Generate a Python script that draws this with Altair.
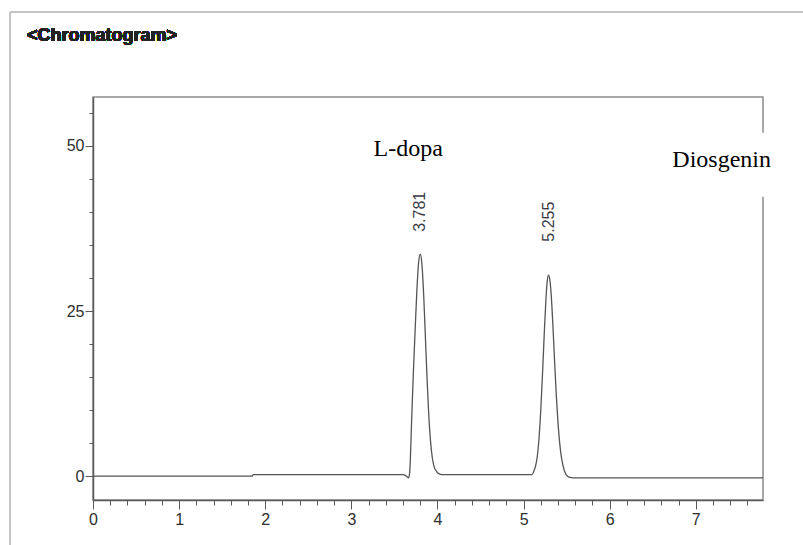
import altair as alt
import pandas as pd

# ---- chromatogram trace (retention time in min, signal) ----
time = [0.00, 1.85, 1.86, 3.60, 3.64, 3.665, 3.675, 3.685, 3.70, 3.72, 3.74, 3.76, 3.78, 3.80,
        3.82, 3.84, 3.86, 3.88, 3.90, 3.92, 3.94, 3.96, 3.99, 4.02, 4.05,
        5.10, 5.12, 5.14, 5.16, 5.18, 5.20, 5.22, 5.24, 5.26, 5.275, 5.29,
        5.305, 5.32, 5.34, 5.36, 5.38, 5.40, 5.42, 5.44, 5.46, 5.48, 5.51, 5.55, 5.60, 7.78]
signal = [0.00, 0.00, 0.25, 0.25, 0.00, -0.25, 0.30, 2.5, 8.5, 15.7, 21.9, 27.9, 32.2, 33.6,
          32.0, 27.4, 21.0, 14.5, 9.0, 5.2, 2.8, 1.5, 0.7, 0.35, 0.25,
          0.25, 0.8, 1.6, 3.1, 5.9, 10.1, 15.6, 21.6, 26.9, 29.6, 30.45,
          29.7, 27.6, 22.9, 17.4, 12.2, 8.0, 4.9, 2.8, 1.5, 0.6, 0.0, -0.2, -0.25, -0.25]

# ---- peak retention-time labels ----
peak_labels = ["3.781", "5.255"]
peak_x = [3.80, 5.29]
peak_label_y = [37.0, 35.5]

# ---- compound annotations ----
compound_names = ["L-dopa", "Diosgenin"]
compound_x = [3.66, 7.30]
compound_y = [48.5, 46.8]

# ---- axis ticks ----
x_major = [0, 1, 2, 3, 4, 5, 6, 7]
x_minor = [round(i * 0.2, 1) for i in range(39) if i % 5 != 0]
y_major = [0, 25, 50]
y_minor = [5, 10, 15, 20, 30, 35, 40, 45, 55]
X_DOMAIN = [0, 7.78]
Y_DOMAIN = [-3.6, 57.4]

trace = pd.DataFrame({"t": time, "s": signal})
peaks = pd.DataFrame({"label": peak_labels, "x": peak_x, "y": peak_label_y})
compounds = pd.DataFrame({"name": compound_names, "x": compound_x, "y": compound_y})
box = compounds[compounds["name"] == "Diosgenin"].copy()
box["x0"] = box["x"] - 0.66
box["x1"] = box["x"] + 1.3
box["y0"] = box["y"] - 4.5
box["y1"] = box["y"] + 5.2

xs = alt.Scale(domain=X_DOMAIN, nice=False, zero=False)
ys = alt.Scale(domain=Y_DOMAIN, nice=False, zero=False)
AX = "#5a5a5a"
LBL_FONT = "Liberation Sans"

main = alt.Chart(trace).mark_line(color="#555555", strokeWidth=1.3, interpolate="monotone").encode(
    x=alt.X("t:Q", scale=xs, title=None,
            axis=alt.Axis(orient="bottom", values=x_major, tickSize=9, labelPadding=2,
                          domainColor=AX, domainWidth=1.5, tickColor=AX, tickWidth=1,
                          labelFont=LBL_FONT, labelFontSize=16, labelColor="#2e2e2e",
                          grid=False, labelFlush=False, labelOverlap=False)),
    y=alt.Y("s:Q", scale=ys, title=None,
            axis=alt.Axis(orient="left", values=y_major, tickSize=8, labelPadding=1,
                          domainColor=AX, domainWidth=1.5, tickColor=AX, tickWidth=1,
                          labelFont=LBL_FONT, labelFontSize=16, labelColor="#2e2e2e",
                          grid=False, labelFlush=False, labelOverlap=False)),
)

minor = alt.Chart(trace).mark_line(opacity=0).encode(
    x=alt.X("t:Q", scale=xs, title=None,
            axis=alt.Axis(orient="bottom", values=x_minor, tickSize=5, labels=False,
                          domain=False, tickColor=AX, tickWidth=1, grid=False)),
    y=alt.Y("s:Q", scale=ys, title=None,
            axis=alt.Axis(orient="left", values=y_minor, tickSize=4, labels=False,
                          domain=False, tickColor=AX, tickWidth=1, grid=False)),
)

whitebox = alt.Chart(box).mark_rect(color="white").encode(
    x=alt.X("x0:Q", scale=xs, axis=None), x2="x1:Q",
    y=alt.Y("y0:Q", scale=ys, axis=None), y2="y1:Q",
)

peak_text = alt.Chart(peaks).mark_text(angle=270, align="left", baseline="middle",
                                       font="Liberation Sans", fontSize=16, color="#3c3c46").encode(
    x=alt.X("x:Q", scale=xs, axis=None),
    y=alt.Y("y:Q", scale=ys, axis=None),
    text="label:N",
)

comp_text = alt.Chart(compounds).mark_text(align="center", baseline="alphabetic",
                                           font="Liberation Serif", fontSize=24, color="black").encode(
    x=alt.X("x:Q", scale=xs, axis=None),
    y=alt.Y("y:Q", scale=ys, axis=None),
    text="name:N",
)

# decorative outer frame of the screenshot
frame_top = alt.Chart(trace).mark_rule(color="#c4c4c4", strokeWidth=2).encode(
    x=alt.value(-83), x2=alt.value(712), y=alt.value(-85))
frame_left = alt.Chart(trace).mark_rule(color="#c4c4c4", strokeWidth=2).encode(
    x=alt.value(-83), y=alt.value(-85), y2=alt.value(450))

title = alt.Chart(trace).mark_text(text="<Chromatogram>", align="left", baseline="alphabetic",
                                   font="Liberation Sans", fontSize=18, fontWeight="bold",
                                   color="#222222").encode(
    x=alt.value(-66), y=alt.value(-56))

chart = alt.layer(main, minor, whitebox, peak_text, comp_text, frame_top, frame_left, title).resolve_axis(
    x="independent", y="independent"
).properties(
    width=670, height=403,
    autosize=alt.AutoSizeParams(type="none"),
    padding={"left": 93, "top": 97, "right": 40, "bottom": 45},
    background="white",
).configure_view(stroke="#8c8c8c", strokeWidth=1.5)

chart.save("out.html", embed_options={"renderer": "svg", "actions": False})
